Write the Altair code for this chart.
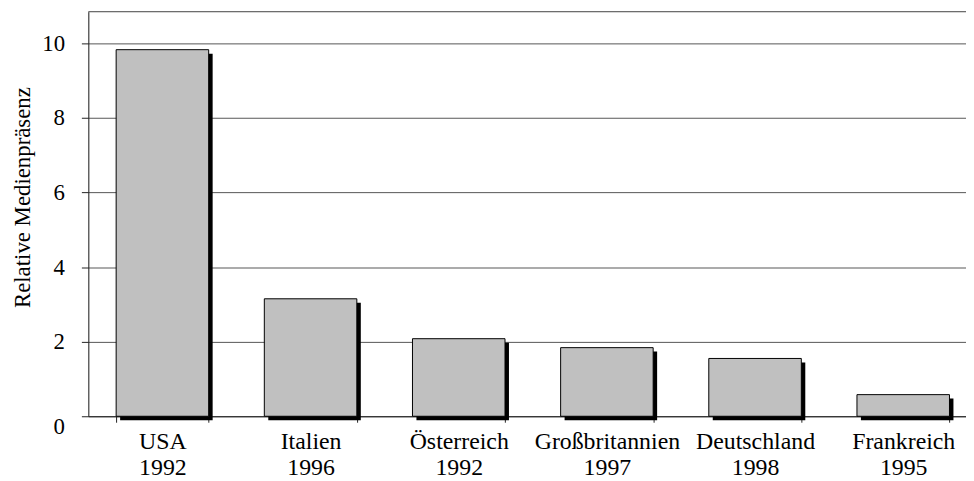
import altair as alt
import pandas as pd

countries = ["USA", "Italien", "Österreich", "Großbritannien", "Deutschland", "Frankreich"]
years = ["1992", "1996", "1992", "1997", "1998", "1995"]
values = [9.83, 3.15, 2.08, 1.84, 1.55, 0.58]
y_ticks = [0, 2, 4, 6, 8, 10]

labels = [f"{c}\n{y}" for c, y in zip(countries, years)]
df = pd.DataFrame({"label": labels, "value": values})

FONT = "Liberation Serif"
W, H = 896.4, 408

x_scale = alt.Scale(domain=labels, paddingInner=0.3755, paddingOuter=0.1878)
y_scale = alt.Scale(domain=[0, 10.85], nice=False, zero=True)

x_axis = alt.Axis(
    title=None, tickBand="extent",
    labelExpr="split(datum.label, '\\n')",
    labelFont=FONT, labelFontSize=24, labelColor="black",
    labelLineHeight=26, labelBaseline="top", labelPadding=8,
    labelAngle=0, labelOverlap=False,
    tickSize=6, tickColor="#222222", domainColor="#222222", grid=False,
)
y_axis = alt.Axis(
    title="Relative Medienpräsenz", values=y_ticks, grid=True,
    gridColor="#555555", gridWidth=1,
    tickSize=7, tickColor="#222222", domainColor="#222222",
    labelFont=FONT, labelFontSize=23, labelColor="black", labelPadding=17,
    labelBaseline="middle",
    labelOffset={"condition": {"test": "datum.value == 0", "value": 10}, "value": 0},
    titleFont=FONT, titleFontSize=23, titleFontWeight="normal", titleColor="black",
    titleX=-66, titleY=187, titleBaseline="middle", titleAngle=-90,
)

base = alt.Chart(df)

top_rule = base.mark_rule(color="#555555", strokeWidth=1).encode(
    y=alt.value(0), x=alt.value(0), x2=alt.value(W)
).transform_filter("datum.label == 'USA\\n1992'")

shadow = base.mark_bar(color="black", xOffset=4, yOffset=4, y2Offset=2).encode(
    x=alt.X("label:N", scale=x_scale, axis=x_axis, sort=labels),
    y=alt.Y("value:Q", scale=y_scale, axis=y_axis),
)

bars = base.mark_bar(fill="#C0C0C0", stroke="black", strokeWidth=1).encode(
    x=alt.X("label:N", scale=x_scale, sort=labels),
    y=alt.Y("value:Q", scale=y_scale),
)

chart = alt.layer(top_rule, shadow, bars).properties(
    width=W, height=H,
    autosize=alt.AutoSizeParams(type="none"),
    padding={"left": 81, "top": 1.7, "right": -11.4, "bottom": 63.3},
).configure_view(stroke=None).configure(background="white")

chart.save("out.html", embed_options={"renderer": "svg", "actions": False})
